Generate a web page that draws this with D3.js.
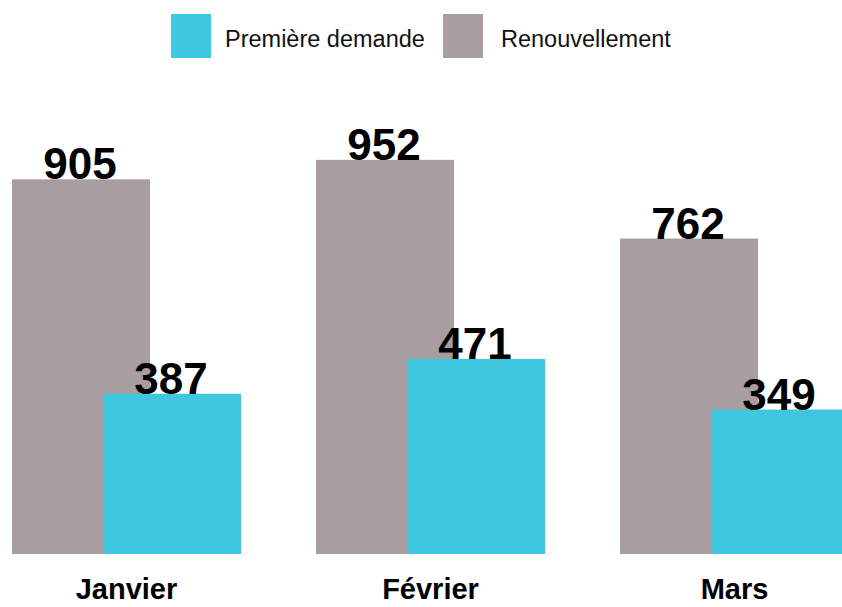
<!DOCTYPE html>
<html>
<head>
<meta charset="utf-8">
<script src="https://cdn.jsdelivr.net/npm/d3@7"></script>
<style>
  html, body { margin: 0; padding: 0; background: #fff; }
  svg { display: block; font-family: "Liberation Sans", Arial, sans-serif; }
</style>
</head>
<body>
<svg id="chart" width="842" height="607"></svg>
<script>
const months = ["Janvier", "Février", "Mars"];
const seriesNames = ["Renouvellement", "Première demande"];
const renouvellement = [905, 952, 762];
const premiereDemande = [387, 471, 349];
const legendOrder = ["Première demande", "Renouvellement"];
const colors = { "Renouvellement": "#a89ea2", "Première demande": "#3ec7de" };

const svg = d3.select("#chart");

const x = d3.scaleBand().domain(months).range([12, 12 + 304 * 3]).paddingInner(0).paddingOuter(0);
const inner = d3.scalePoint().domain(seriesNames).range([0, 91]);
const barW = 138;
const y = d3.scaleLinear().domain([0, 1000]).range([554, 140]);

const valuesBySeries = { "Renouvellement": renouvellement, "Première demande": premiereDemande };

seriesNames.forEach(s => {
  const g = svg.append("g");
  g.selectAll("rect").data(months.map((m, i) => ({ m, v: valuesBySeries[s][i] })))
    .join("rect")
    .attr("x", d => x(d.m) + inner(s))
    .attr("y", d => y(d.v))
    .attr("width", barW)
    .attr("height", d => y(0) - y(d.v))
    .attr("fill", colors[s]);
  g.selectAll("text").data(months.map((m, i) => ({ m, v: valuesBySeries[s][i] })))
    .join("text")
    .attr("x", d => x(d.m) + inner(s) + barW / 2 - 1)
    .attr("y", d => y(d.v))
    .attr("text-anchor", "middle")
    .attr("font-size", 44)
    .attr("font-weight", "bold")
    .attr("fill", "#000")
    .text(d => d.v);
});

// category labels
svg.append("g").selectAll("text").data(months).join("text")
  .attr("x", d => x(d) + (inner.range()[1] + barW) / 2)
  .attr("y", 599)
  .attr("text-anchor", "middle")
  .attr("font-size", 29)
  .attr("font-weight", "bold")
  .attr("fill", "#000")
  .text(d => d);

// legend
const legendX = [171, 443];
const legendTextDx = [54, 58];
const lg = svg.append("g").selectAll("g").data(legendOrder).join("g")
  .attr("transform", (d, i) => `translate(${legendX[i]},14)`);
lg.append("rect").attr("width", 40).attr("height", 44).attr("fill", d => colors[d]);
lg.append("text").attr("x", (d, i) => legendTextDx[i]).attr("y", 33)
  .attr("font-size", 23.5).attr("fill", "#111").text(d => d);
</script>
</body>
</html>
